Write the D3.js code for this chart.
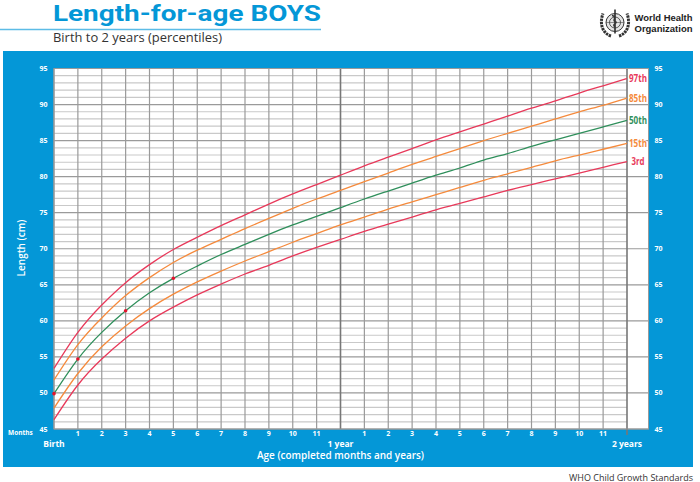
<!DOCTYPE html>
<html>
<head>
<meta charset="utf-8">
<script src="https://d3js.org/d3.v7.min.js"></script>
<style>
  html, body { margin: 0; padding: 0; background: #fff; }
  svg { display: block; }
  text { font-family: "Open Sans", "Noto Sans", sans-serif; }
</style>
</head>
<body>
<div id="chart"></div>
<script>
// WHO length-for-age boys, one value per completed month
var months = d3.range(0, 25);
var p3  = [46.3,51.1,54.7,57.6,60.0,61.9,63.6,65.1,66.5,67.7,69.0,70.2,71.3,72.4,73.4,74.4,75.4,76.3,77.2,78.1,78.9,79.7,80.5,81.3,82.1];
var p15 = [47.9,52.7,56.4,59.3,61.7,63.7,65.4,66.9,68.3,69.6,70.9,72.1,73.3,74.4,75.5,76.5,77.5,78.5,79.5,80.4,81.3,82.2,83.0,83.8,84.6];
var p50 = [49.9,54.7,58.4,61.4,63.9,65.9,67.6,69.2,70.6,72.0,73.3,74.5,75.7,76.9,78.0,79.1,80.2,81.2,82.3,83.2,84.2,85.1,86.0,86.9,87.8];
var p85 = [51.8,56.7,60.4,63.5,66.0,68.1,69.8,71.3,72.8,74.2,75.6,76.9,78.1,79.3,80.5,81.7,82.8,83.9,85.0,86.0,87.0,88.0,89.0,89.9,90.9];
var p97 = [53.4,58.4,62.2,65.3,67.8,69.9,71.6,73.2,74.7,76.2,77.6,78.9,80.2,81.5,82.7,83.9,85.1,86.2,87.3,88.4,89.5,90.5,91.6,92.6,93.6];
var percentileNames = ["3rd", "15th", "50th", "85th", "97th"];
var percentileValues = [p3, p15, p50, p85, p97];
var percentileColors = ["#e8395a", "#f58a3c", "#2f8f5b", "#f58a3c", "#e8395a"];
var markedMonths = [0, 1, 3, 5];
var yTicks = d3.range(45, 100, 5);

var BLUE = "#0497d7";
var svg = d3.select("#chart").append("svg").attr("width", 700).attr("height", 482);

var x = d3.scaleLinear().domain([0, 24]).range([54, 627]);
var y = d3.scaleLinear().domain([45, 95]).range([429, 68.5]);

// header
svg.append("text").attr("x", 53).attr("y", 21)
    .attr("font-size", 22.5).attr("font-weight", 700).attr("fill", BLUE)
    .style("font-family", "Roboto")
    .attr("textLength", 268).attr("lengthAdjust", "spacingAndGlyphs")
    .text("Length-for-age BOYS");
svg.append("line").attr("x1", 0).attr("x2", 321).attr("y1", 29.5).attr("y2", 29.5)
    .attr("stroke", "#5cbce6").attr("stroke-width", 1.3);
svg.append("text").attr("x", 53).attr("y", 42)
    .attr("font-size", 12.5).attr("fill", "#333")
    .attr("textLength", 169).attr("lengthAdjust", "spacingAndGlyphs")
    .text("Birth to 2 years (percentiles)");

// WHO emblem, rough
var logo = svg.append("g").attr("transform", "translate(615,22.5)")
    .attr("fill", "none").attr("stroke", "#333");
logo.append("circle").attr("r", 9).attr("stroke-width", 1).attr("fill", "#e4e4e4");
logo.append("circle").attr("r", 5.5).attr("stroke-width", 0.8);
logo.append("path").attr("d", "M-9,0H9M0,-9V9").attr("stroke-width", 0.5);
logo.append("path").attr("d", "M0,-13V11M-3,-7C3,-6 -3,-2 0,-1C4,0 -4,2 0,4").attr("stroke-width", 1.6);
logo.append("path").attr("d", "M-4,13.5C-12,11 -16,2 -12,-9M4,13.5C12,11 16,2 12,-9")
    .attr("stroke-width", 3).attr("stroke-dasharray", "2.4 0.8");
svg.append("text").attr("x", 634.5).attr("y", 21).attr("font-size", 9).attr("font-weight", 700).attr("fill", "#222")
    .style("font-family", "'Liberation Sans'")
    .attr("textLength", 58).attr("lengthAdjust", "spacingAndGlyphs").text("World Health");
svg.append("text").attr("x", 634.5).attr("y", 31.5).attr("font-size", 9).attr("font-weight", 700).attr("fill", "#222")
    .style("font-family", "'Liberation Sans'")
    .attr("textLength", 58).attr("lengthAdjust", "spacingAndGlyphs").text("Organization");

// blue panel and plot area
svg.append("rect").attr("x", 3).attr("y", 51).attr("width", 690).attr("height", 416).attr("fill", BLUE);
svg.append("rect").attr("x", x(0)).attr("y", y(95)).attr("width", 594.5).attr("height", y(45) - y(95)).attr("fill", "#fff");

// horizontal grid, every cm
var grid = svg.append("g");
grid.selectAll(".minor").data(d3.range(45, 96).filter(function(d) { return d % 5 != 0; }))
    .join("line").attr("class", "minor")
    .attr("x1", x(0)).attr("x2", x(24))
    .attr("y1", function(d) { return y(d); }).attr("y2", function(d) { return y(d); })
    .attr("stroke", "#c9c9c9").attr("stroke-width", 1.2);
grid.selectAll(".major").data(yTicks)
    .join("line").attr("class", "major")
    .attr("x1", x(0)).attr("x2", 648.5)
    .attr("y1", function(d) { return y(d); }).attr("y2", function(d) { return y(d); })
    .attr("stroke", "#9a9a9a").attr("stroke-width", 1.2);

// vertical grid, every month
grid.selectAll(".month").data(months)
    .join("line").attr("class", "month")
    .attr("x1", function(d) { return x(d); }).attr("x2", function(d) { return x(d); })
    .attr("y1", y(95)).attr("y2", function(d) { return d == 24 ? y(45) + 6 : y(45); })
    .attr("stroke", function(d) { return d % 12 == 0 && d > 0 ? "#777" : "#9a9a9a"; })
    .attr("stroke-width", function(d) { return d % 12 == 0 && d > 0 ? 1.6 : 1.2; });
svg.append("rect").attr("x", x(0)).attr("y", y(95)).attr("width", 594.5).attr("height", y(45) - y(95))
    .attr("fill", "none").attr("stroke", "#9a9a9a").attr("stroke-width", 1);

// percentile curves
var line = d3.line()
    .x(function(d, i) { return x(months[i]); })
    .y(function(d) { return y(d); })
    .curve(d3.curveNatural);
svg.selectAll(".curve").data(percentileValues)
    .join("path").attr("class", "curve")
    .attr("d", line).attr("fill", "none")
    .attr("stroke", function(d, i) { return percentileColors[i]; })
    .attr("stroke-width", 1.3);

// red dots on the median
svg.selectAll(".dot").data(markedMonths)
    .join("circle").attr("class", "dot")
    .attr("cx", function(d) { return x(d); })
    .attr("cy", function(d) { return y(p50[d]); })
    .attr("r", 1.8).attr("fill", "#e2142d");

// percentile labels
svg.selectAll(".pct").data(percentileNames)
    .join("text").attr("class", "pct")
    .attr("x", 638).attr("y", function(d, i) { return y(percentileValues[i][24]) + 3.5; })
    .attr("text-anchor", "middle").attr("font-size", 10).attr("font-weight", 700)
    .attr("stroke", "#fff").attr("stroke-width", 1.5).attr("paint-order", "stroke")
    .attr("textLength", function(d) { return d.length == 3 ? 13 : 18; })
    .attr("lengthAdjust", "spacingAndGlyphs")
    .attr("fill", function(d, i) { return percentileColors[i]; })
    .text(function(d) { return d; });

// y axis labels both sides
[43.5, 658.5].forEach(function(px) {
    svg.append("g").selectAll("text").data(yTicks)
        .join("text").attr("x", px).attr("y", function(d) { return y(d) + 2.5; })
        .attr("text-anchor", "middle").attr("font-size", 7).attr("font-weight", 700).attr("fill", "#fff")
        .text(function(d) { return d; });
});

// month labels
var monthLabel = function(d) { return d % 12 == 0 ? "" : d % 12; };
svg.append("g").selectAll("text").data(months)
    .join("text").attr("x", function(d) { return x(d); }).attr("y", 436)
    .attr("text-anchor", "middle").attr("font-size", 7).attr("font-weight", 700).attr("fill", "#fff")
    .text(monthLabel);
svg.append("text").attr("x", 8).attr("y", 435).attr("font-size", 6.5).attr("font-weight", 700).attr("fill", "#fff").text("Months");
svg.append("text").attr("x", x(0)).attr("y", 447).attr("text-anchor", "middle").attr("font-size", 8.5).attr("font-weight", 700).attr("fill", "#fff").text("Birth");
svg.append("text").attr("x", x(12)).attr("y", 447).attr("text-anchor", "middle").attr("font-size", 8.5).attr("font-weight", 700).attr("fill", "#fff").text("1 year");
svg.append("text").attr("x", x(24)).attr("y", 447).attr("text-anchor", "middle").attr("font-size", 8.5).attr("font-weight", 700).attr("fill", "#fff").text("2 years");

// axis titles
svg.append("text").attr("x", 340.5).attr("y", 459).attr("text-anchor", "middle")
    .attr("font-size", 10.5).attr("font-weight", 600).attr("fill", "#fff")
    .attr("textLength", 167).attr("lengthAdjust", "spacingAndGlyphs")
    .text("Age (completed months and years)");
svg.append("text").attr("transform", "translate(25,248) rotate(-90)").attr("text-anchor", "middle")
    .attr("font-size", 10).attr("font-weight", 600).attr("fill", "#fff")
    .text("Length (cm)");

// footer
svg.append("text").attr("x", 569).attr("y", 480.5)
    .attr("font-size", 8.5).attr("fill", "#333")
    .attr("textLength", 124).attr("lengthAdjust", "spacingAndGlyphs")
    .text("WHO Child Growth Standards");
</script>
</body>
</html>
